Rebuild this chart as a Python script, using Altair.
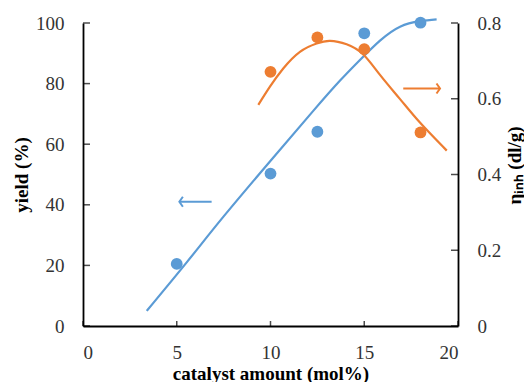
import altair as alt
import pandas as pd

# ---- data ----
x_yield_pts = [5, 10, 12.5, 15, 18]
yield_pts = [20.5, 50.3, 64.1, 96.6, 100.1]

x_eta_pts = [10, 12.5, 15, 18]
eta_pts = [0.671, 0.762, 0.731, 0.511]

yield_curve_x = [3.40, 5.53, 7.48, 9.97, 12.28, 13.71, 14.77, 15.84, 16.91, 17.97, 18.86]
yield_curve_y = [5.0, 21.0, 36.0, 54.3, 71.0, 81.0, 87.8, 94.2, 98.8, 100.6, 101.2]

eta_curve_x = [9.35, 9.97, 10.68, 11.57, 12.46, 13.17, 14.06, 14.95, 15.84, 16.91, 17.97, 19.40]
eta_curve_y = [0.584, 0.632, 0.680, 0.724, 0.746, 0.753, 0.744, 0.717, 0.663, 0.599, 0.537, 0.463]

# arrows: tip, tail, level
blue_arrow = {"tip": [5.14], "tail": [6.86], "y": [41.0]}
orange_arrow = {"tip": [19.04], "tail": [17.08], "y": [0.627]}

x_ticks = [0, 5, 10, 15, 20]
yield_ticks = [0, 20, 40, 60, 80, 100]
eta_ticks = [0, 0.2, 0.4, 0.6, 0.8]

BLUE = "#5B9BD5"
ORANGE = "#ED7D31"
FONT = "'Liberation Serif', 'Times New Roman', serif"
W, H = 375, 303

x_scale = alt.Scale(domain=[0, 20], nice=False)
yl_scale = alt.Scale(domain=[0, 100], nice=False)
yr_scale = alt.Scale(domain=[0, 0.8], nice=False)

common = dict(labelFont=FONT, labelFontSize=19, labelColor="#333",
              titleFont=FONT, titleFontSize=19, titleFontWeight="bold", titleColor="black")

x_axis = alt.Axis(values=x_ticks, title="catalyst amount (mol%)", labelPadding=17,
                  titlePadding=2, **common)
yl_axis = alt.Axis(values=yield_ticks, title="yield (%)", labelPadding=19,
                   titlePadding=4, **common)
yr_axis = alt.Axis(values=eta_ticks, title="ηᵢₙₕ (dl/g)", orient="right",
                   labelPadding=19, titleAngle=270, titleX=62, titleY=142,
                   titleBaseline="alphabetic", titleAlign="center",
                   labelExpr="datum.value == 0 ? '0' : format(datum.value, '.1f')", **common)

def X(f):
    return alt.X(f, type="quantitative", scale=x_scale, axis=x_axis)

def YL(f):
    return alt.Y(f, type="quantitative", scale=yl_scale, axis=yl_axis)

def YR(f):
    return alt.Y(f, type="quantitative", scale=yr_scale, axis=yr_axis)

df_yc = pd.DataFrame({"x": yield_curve_x, "v": yield_curve_y})
df_yp = pd.DataFrame({"x": x_yield_pts, "v": yield_pts})
df_ec = pd.DataFrame({"x": eta_curve_x, "v": eta_curve_y})
df_ep = pd.DataFrame({"x": x_eta_pts, "v": eta_pts})
df_ba = pd.DataFrame({"x": blue_arrow["tip"], "x2": blue_arrow["tail"], "v": blue_arrow["y"]})
df_oa = pd.DataFrame({"x": orange_arrow["tip"], "x2": orange_arrow["tail"], "v": orange_arrow["y"]})
df_xt = pd.DataFrame({"x": x_ticks})
df_ylt = pd.DataFrame({"v": yield_ticks})
df_yrt = pd.DataFrame({"v": eta_ticks})

blue_line = alt.Chart(df_yc).mark_line(color=BLUE, strokeWidth=2.2, interpolate="natural").encode(
    x=X("x"), y=YL("v"))
blue_pts = alt.Chart(df_yp).mark_point(filled=True, color=BLUE, size=140, opacity=1).encode(
    x=X("x"), y=YL("v"))
blue_shaft = alt.Chart(df_ba).mark_rule(color=BLUE, strokeWidth=2).encode(
    x=X("x"), x2="x2", y=YL("v"))
blue_head = alt.Chart(df_ba).mark_point(shape="M0.7,-1L0,0L0.7,1", filled=False, color=BLUE,
                                        strokeWidth=2, size=100, opacity=1).encode(
    x=X("x"), y=YL("v"))
x_tick_marks = alt.Chart(df_xt).mark_tick(orient="vertical", color="black", size=5,
                                         thickness=1.5).encode(
    x=X("x"), y=alt.value(H - 2.5))
yl_tick_marks = alt.Chart(df_ylt).mark_tick(orient="horizontal", color="black", size=7,
                                           thickness=1.5).encode(
    y=YL("v"), x=alt.value(3.5))

orange_line = alt.Chart(df_ec).mark_line(color=ORANGE, strokeWidth=2.2, interpolate="natural").encode(
    x=X("x"), y=YR("v"))
orange_pts = alt.Chart(df_ep).mark_point(filled=True, color=ORANGE, size=140, opacity=1).encode(
    x=X("x"), y=YR("v"))
orange_shaft = alt.Chart(df_oa).mark_rule(color=ORANGE, strokeWidth=2).encode(
    x=X("x"), x2="x2", y=YR("v"))
orange_head = alt.Chart(df_oa).mark_point(shape="M-0.7,-1L0,0L-0.7,1", filled=False, color=ORANGE,
                                          strokeWidth=2, size=100, opacity=1).encode(
    x=X("x"), y=YR("v"))
yr_tick_marks = alt.Chart(df_yrt).mark_tick(orient="horizontal", color="black", size=7,
                                           thickness=1.5).encode(
    y=YR("v"), x=alt.value(W - 3.5))

left = alt.layer(blue_line, blue_pts, blue_shaft, blue_head, x_tick_marks, yl_tick_marks)
right = alt.layer(orange_line, orange_pts, orange_shaft, orange_head, yr_tick_marks)

chart = alt.layer(left, right).resolve_scale(y="independent").properties(
    width=W, height=H,
    autosize=alt.AutoSizeParams(type="none"),
    padding={"left": 75, "top": 15, "right": 66, "bottom": 56},
).configure(font=FONT).configure_view(stroke=None).configure_axis(
    grid=False, ticks=False, domainColor="black", domainWidth=1.8,
)

chart.save("out.html", embed_options={"renderer": "svg", "actions": False})
